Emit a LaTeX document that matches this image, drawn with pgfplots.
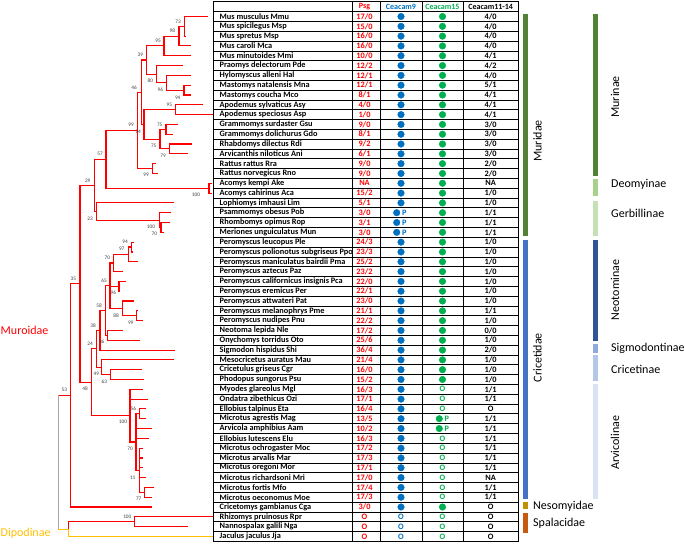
\documentclass[border=0pt]{standalone}
\usepackage{pgfplots}
\usepackage{pgfplotstable}
\pgfplotsset{compat=1.18}
\usepackage{fontspec}
\setmainfont{Carlito}
\definecolor{treered}{HTML}{FF0000}
\definecolor{cnine}{HTML}{0070C0}
\definecolor{cfif}{HTML}{00B050}
\definecolor{dgold}{HTML}{FFC000}
\definecolor{murgreen}{HTML}{548235}
\definecolor{deogreen}{HTML}{A9D18E}
\definecolor{gergreen}{HTML}{C5E0B4}
\definecolor{cricblue}{HTML}{4472C4}
\definecolor{neoblue}{HTML}{2F5597}
\definecolor{sigblue}{HTML}{8FAADC}
\definecolor{criblue}{HTML}{B4C7E7}
\definecolor{arvblue}{HTML}{DAE3F3}
\definecolor{nesgold}{HTML}{BF9000}
\definecolor{spaorange}{HTML}{C55A11}
\definecolor{bsgray}{HTML}{404040}
\newcommand\nf{\fontsize{8.3}{9}\selectfont\bfseries}
\newcommand\hf{\fontsize{8}{9}\selectfont\bfseries}
\newcommand\lf{\fontsize{12}{13}\selectfont}
\newcommand\bsf{\fontsize{5.3}{6}\selectfont}
\pgfplotstableread[col sep=comma,row sep=\\]{
name,psg,cx\\
Mus musculus Mmu,17/0,4/0\\
Mus spicilegus Msp,15/0,4/0\\
Mus spretus Msp,16/0,4/0\\
Mus caroli Mca,16/0,4/0\\
Mus minutoides Mmi,10/0,4/1\\
Praomys delectorum Pde,12/2,4/2\\
Hylomyscus alleni Hal,12/1,4/0\\
Mastomys natalensis Mna,12/1,5/1\\
Mastomys coucha Mco,8/1,4/1\\
Apodemus sylvaticus Asy,4/0,4/1\\
Apodemus speciosus Asp,1/0,4/1\\
Grammomys surdaster Gsu,9/0,3/0\\
Grammomys dolichurus Gdo,8/1,3/0\\
Rhabdomys dilectus Rdi,9/2,3/0\\
Arvicanthis niloticus Ani,6/1,3/0\\
Rattus rattus Rra,9/0,2/0\\
Rattus norvegicus Rno,9/0,2/0\\
Acomys kempi Ake,NA,NA\\
Acomys cahirinus Aca,15/2,1/0\\
Lophiomys imhausi Lim,5/1,1/0\\
Psammomys obesus Pob,3/0,1/1\\
Rhombomys opimus Rop,3/1,1/1\\
Meriones unguiculatus Mun,3/0,1/1\\
Peromyscus leucopus Ple,24/3,1/0\\
Peromyscus polionotus subgriseus Ppo,23/3,1/0\\
Peromyscus maniculatus bairdii Pma,25/2,1/0\\
Peromyscus aztecus Paz,23/2,1/0\\
Peromyscus californicus insignis  Pca,22/0,1/0\\
Peromyscus eremicus Per,22/1,1/0\\
Peromyscus attwateri Pat,23/0,1/0\\
Peromyscus melanophrys Pme,21/1,1/1\\
Peromyscus nudipes Pnu,22/2,1/0\\
Neotoma lepida Nle,17/2,0/0\\
Onychomys torridus Oto,25/6,1/0\\
Sigmodon hispidus Shi,36/4,2/0\\
Mesocricetus auratus Mau,21/4,1/0\\
Cricetulus griseus Cgr,16/0,1/0\\
Phodopus sungorus Psu,15/2,1/0\\
Myodes glareolus Mgl,16/3,1/1\\
Ondatra zibethicus Ozi,17/1,1/1\\
Ellobius talpinus Eta,16/4,O\\
Microtus agrestis Mag,13/5,1/1\\
Arvicola amphibius Aam,10/2,1/1\\
Ellobius lutescens Elu,16/3,1/1\\
Microtus ochrogaster Moc,17/2,1/1\\
Microtus arvalis Mar,17/3,1/1\\
Microtus oregoni Mor,17/1,1/1\\
Microtus richardsoni Mri,17/0,NA\\
Microtus fortis Mfo,17/4,1/1\\
Microtus oeconomus Moe,17/3,1/1\\
Cricetomys gambianus Cga,3/0,O\\
Rhizomys pruinosus Rpr,O,O\\
Nannospalax galili Nga,O,O\\
Jaculus jaculus Jja,O,O\\
}\spt
\pgfplotstableread{
x y lab
178 20.7 73
172.3 30.3 98
158 40 95
140.3 54 39
150.3 80.3 80
160.3 89 96
177.7 96.7 94
134 86.7 46
169.3 104 95
159.7 124 75
153.7 145.3 75
163 155 79
131 124.3 99
138 131 94
146 174.3 99
100 153.3 57
87.7 179.7 29
196 194.3 100
90 217.7 23
151 226 100
154.3 233.3 70
125 241 94
121.7 248.3 97
107.3 257 70
73.3 277.7 35
104 280 65
113.3 292.3 96
99 304.3 58
116 314.3 88
130.7 321.7 99
93 324.3 38
90 342.7 24
101.7 340.7 36
96.3 373.3 49
104.3 380.7 63
64.3 389 53
85 387.7 48
133.3 407.7 56
123 421 100
130 447.7 70
132.7 476.7 11
138.7 498.3 77
127.3 516 100
}\bst
\pgfplotsset{tr/.style={color=treered, line width=1.1pt, mark=none},
  sb/.style={line width=5pt, mark=none}}
\begin{document}
\begin{tikzpicture}
% table grid
\begin{axis}[x=1pt,y=1pt,y dir=reverse, xmin=213,xmax=518,ymin=0.895,ymax=540.445,
  at={(213pt,0.555pt)}, anchor=south west,
  xtick={352,380,422,463}, ytick={10.705,20.515,...,531},
  grid=major, major grid style={black,line width=0.7pt},
  xticklabels={}, yticklabels={}, major tick length=0pt,
  axis line style={black,line width=0.9pt}]
\addplot[draw=none] coordinates {(213,0.895)};
\end{axis}
\begin{axis}[x=1pt, y=1pt, y dir=reverse, xmin=0, xmax=685, ymin=0, ymax=541,
  hide axis, clip=false, at={(0,0)}, anchor=south west]
\path (axis cs:0,0) rectangle (axis cs:685,541);
% ---- tree ----
\addplot[tr] coordinates {(207.7,15.6)(184.3,15.6)(184.3,35.22)(185.7,35.22)};
\addplot[tr] coordinates {(184.3,25.41)(179,25.41)(179,45.03)(190.7,45.03)};
\addplot[tr] coordinates {(179,35.22)(164,35.22)(164,54.84)(190.7,54.84)};
\addplot[tr] coordinates {(190.7,84.27)(184,84.27)(184,94.08)(190.7,94.08)};
\addplot[tr] coordinates {(190.7,74.46)(166.7,74.46)(166.7,89.18)(184,89.18)};
\addplot[tr] coordinates {(183.3,64.65)(156.7,64.65)(156.7,81.82)(166.7,81.82)};
\addplot[tr] coordinates {(164,45.03)(146.7,45.03)(146.7,73.24)(156.7,73.24)};
\addplot[tr] coordinates {(203.3,103.89)(175.7,103.89)(175.7,113.7)(212.7,113.7)};
\addplot[tr] coordinates {(177.7,123.51)(166,123.51)(166,133.32)(172.7,133.32)};
\addplot[tr] coordinates {(192.3,143.13)(169.3,143.13)(169.3,152.94)(188.3,152.94)};
\addplot[tr] coordinates {(166,128.4)(160,128.4)(160,148.0)(169.3,148.0)};
\addplot[tr] coordinates {(175.7,108.8)(144,108.8)(144,138.2)(160,138.2)};
\addplot[tr] coordinates {(146.7,59.13)(141.7,59.13)(141.7,123.5)(144,123.5)};
\addplot[tr] coordinates {(156,162.75)(152.7,162.75)(152.7,172.56)(158.3,172.56)};
\addplot[tr] coordinates {(141.7,91.3)(137.7,91.3)(137.7,167.66)(152.7,167.66)};
\addplot[tr] coordinates {(211.5,182.37)(209,182.37)(209,192.18)(211.5,192.18)};
\addplot[tr] coordinates {(137.7,129.5)(106,129.5)(106,187.3)(209,187.3)};
\addplot[tr] coordinates {(170,221.61)(161,221.61)(161,231.42)(164.3,231.42)};
\addplot[tr] coordinates {(171,211.8)(159.3,211.8)(159.3,226.5)(161,226.5)};
\addplot[tr] coordinates {(174.3,201.99)(96.7,201.99)(96.7,219.2)(159.3,219.2)};
\addplot[tr] coordinates {(106,158.4)(94.3,158.4)(94.3,210.6)(96.7,210.6)};
\addplot[tr] coordinates {(94.3,184.5)(80,184.5)(80,381.3)(91.7,381.3)};
\addplot[tr] coordinates {(134,241.23)(131.7,241.23)(131.7,251.04)(133,251.04)};
\addplot[tr] coordinates {(131.7,246.1)(128.3,246.1)(128.3,260.85)(137.7,260.85)};
\addplot[tr] coordinates {(128.3,253.5)(113.3,253.5)(113.3,270.66)(122.7,270.66)};
\addplot[tr] coordinates {(125.7,280.47)(119,280.47)(119,290.28)(120,290.28)};
\addplot[tr] coordinates {(138.3,309.9)(136.7,309.9)(136.7,319.71)(143.3,319.71)};
\addplot[tr] coordinates {(134.3,300.09)(122.3,300.09)(122.3,314.8)(136.7,314.8)};
\addplot[tr] coordinates {(113.3,262.1)(110,262.1)(110,307.4)(122.3,307.4)};
\addplot[tr] coordinates {(110,285.4)(119,285.4)};
\addplot[tr] coordinates {(122.7,329.52)(107.3,329.52)(107.3,339.33)(140,339.33)};
\addplot[tr] coordinates {(110,284.8)(105.7,284.8)(105.7,334.4)(107.3,334.4)};
\addplot[tr] coordinates {(105.7,309.6)(100,309.6)(100,349.14)(175,349.14)};
\addplot[tr] coordinates {(141.7,368.76)(110.7,368.76)(110.7,378.57)(144,378.57)};
\addplot[tr] coordinates {(174.3,358.95)(101.7,358.95)(101.7,373.7)(110.7,373.7)};
\addplot[tr] coordinates {(100,329.4)(96.7,329.4)(96.7,366.3)(101.7,366.3)};
\addplot[tr] coordinates {(96.7,347.9)(91.7,347.9)(91.7,414.7)(130,414.7)};
\addplot[tr] coordinates {(145.7,408.0)(139.3,408.0)(139.3,417.81)(145.7,417.81)};
\addplot[tr] coordinates {(154,486.48)(144.3,486.48)(144.3,496.29)(151.7,496.29)};
\addplot[tr] coordinates {(143.3,447.24)(139.3,447.24)(139.3,491.4)(144.3,491.4)};
\addplot[tr] coordinates {(139.3,457.05)(143.3,457.05)};
\addplot[tr] coordinates {(139.3,466.86)(143.3,466.86)};
\addplot[tr] coordinates {(139.3,476.67)(145.7,476.67)};
\addplot[tr] coordinates {(139.3,412.9)(136,412.9)(136,469.3)(139.3,469.3)};
\addplot[tr] coordinates {(136,427.62)(151.7,427.62)};
\addplot[tr] coordinates {(136,437.43)(149,437.43)};
\addplot[tr] coordinates {(142.7,388.38)(130,388.38)(130,441.1)(136,441.1)};
\addplot[tr] coordinates {(130,398.19)(148.3,398.19)};
\addplot[tr] coordinates {(80,282.9)(70.7,282.9)(70.7,506.1)(151.7,506.1)};
\addplot[tr] coordinates {(70.7,394.5)(58.3,394.5)};
\addplot[color=gray!70, line width=1.1pt, mark=none] coordinates {(58.3,394.5)(58.3,528.2)};
\addplot[color=dgold, line width=1.1pt, mark=none] coordinates {(58.3,528.2)(68.3,528.2)};
\addplot[color=dgold, line width=1.1pt, mark=none] coordinates {(68.3,528.2)(68.3,535.53)(212.7,535.53)};
\addplot[tr] coordinates {(68.3,528.2)(68.3,520.8)(134.3,520.8)};
\addplot[tr] coordinates {(212.7,515.91)(134.3,515.91)(134.3,525.72)(187.7,525.72)};
% bootstrap values
\addplot[draw=none, mark=none, nodes near coords, point meta=explicit symbolic,
  every node near coord/.append style={anchor=center, font=\bsf, text=bsgray, inner sep=0pt}]
  table[x=x, y=y, meta=lab] {\bst};
\node[anchor=west, text=treered, font=\lf, inner sep=0pt] at (axis cs:0.5,329) {Muroidae};
\node[anchor=west, text=dgold, font=\lf, inner sep=0pt] at (axis cs:0.5,532) {Dipodinae};
% ---- table text ----
\node[text=treered, font=\hf] at (axis cs:364.5,5.7) {Psg};
\node[text=cnine, font=\hf] at (axis cs:401,5.7) {Ceacam9};
\node[text=cfif, font=\hf] at (axis cs:442.5,5.7) {Ceacam15};
\node[text=black, font=\hf] at (axis cs:490.7,5.7) {Ceacam11-14};
\addplot[draw=none, mark=none, nodes near coords, point meta=explicit symbolic,
  every node near coord/.append style={anchor=west, font=\nf, text=black, inner sep=0pt}]
  table[x expr=219.5, y expr=15.6+9.81*\coordindex, meta=name] {\spt};
\addplot[draw=none, mark=none, nodes near coords, point meta=explicit symbolic,
  every node near coord/.append style={anchor=center, font=\nf, text=treered, inner sep=0pt}]
  table[x expr=364.5, y expr=15.6+9.81*\coordindex, meta=psg] {\spt};
\addplot[draw=none, mark=none, nodes near coords, point meta=explicit symbolic,
  every node near coord/.append style={anchor=center, font=\nf, text=black, inner sep=0pt}]
  table[x expr=490.7, y expr=15.6+9.81*\coordindex, meta=cx] {\spt};
% Ceacam9 dots
\addplot[only marks, mark=*, mark size=3.3pt, color=cnine] coordinates {
(401,15.6)(401,25.41)(401,35.22)(401,45.03)(401,54.84)(401,64.65)(401,74.46)(401,84.27)
(401,94.08)(401,103.89)(401,113.7)(401,123.51)(401,133.32)(401,143.13)(401,152.94)
(401,162.75)(401,172.56)(401,182.37)(401,192.18)(401,201.99)
(396.7,211.8)(396.7,221.61)(396.7,231.42)
(401,241.23)(401,251.04)(401,260.85)(401,270.66)(401,280.47)(401,290.28)(401,300.09)
(401,309.9)(401,319.71)(401,329.52)(401,339.33)(401,349.14)(401,358.95)(401,368.76)
(401,378.57)(401,388.38)(401,398.19)(401,408.0)(401,417.81)(401,427.62)(401,437.43)
(401,447.24)(401,457.05)(401,466.86)(401,476.67)(401,486.48)(401,496.29)(401,506.1)};
% Ceacam15 dots
\addplot[only marks, mark=*, mark size=3.3pt, color=cfif] coordinates {
(442.5,15.6)(442.5,25.41)(442.5,35.22)(442.5,45.03)(442.5,54.84)(442.5,64.65)(442.5,74.46)
(442.5,84.27)(442.5,94.08)(442.5,103.89)(442.5,113.7)(442.5,123.51)(442.5,133.32)
(442.5,143.13)(442.5,152.94)(442.5,162.75)(442.5,172.56)(442.5,182.37)(442.5,192.18)
(442.5,201.99)(442.5,211.8)(442.5,221.61)(442.5,231.42)(442.5,241.23)(442.5,251.04)
(442.5,260.85)(442.5,270.66)(442.5,280.47)(442.5,290.28)(442.5,300.09)(442.5,309.9)
(442.5,319.71)(442.5,329.52)(442.5,339.33)(442.5,349.14)(442.5,358.95)(442.5,368.76)
(442.5,378.57)(439.3,417.81)(439.3,427.62)(442.5,506.1)};
% P marks
\addplot[draw=none, mark=none, nodes near coords={P},
  every node near coord/.append style={anchor=center, font=\nf, text=cnine, inner sep=0pt}]
  coordinates {(404.3,211.8)(404.3,221.61)(404.3,231.42)};
\addplot[draw=none, mark=none, nodes near coords={P},
  every node near coord/.append style={anchor=center, font=\nf, text=cfif, inner sep=0pt}]
  coordinates {(446.8,417.81)(446.8,427.62)};
% O marks
\addplot[draw=none, mark=none, nodes near coords={O},
  every node near coord/.append style={anchor=center, font=\nf, text=cnine, inner sep=0pt}]
  coordinates {(401,515.91)(401,525.72)(401,535.53)};
\addplot[draw=none, mark=none, nodes near coords={O},
  every node near coord/.append style={anchor=center, font=\nf, text=cfif, inner sep=0pt}]
  coordinates {(442.5,388.38)(442.5,398.19)(442.5,408.0)(442.5,437.43)(442.5,447.24)
  (442.5,457.05)(442.5,466.86)(442.5,476.67)(442.5,486.48)(442.5,496.29)
  (442.5,515.91)(442.5,525.72)(442.5,535.53)};
% ---- side bars ----
\addplot[sb, color=murgreen] coordinates {(525.8,12.7)(525.8,235)};
\addplot[sb, color=cricblue] coordinates {(525.8,239)(525.8,498)};
\addplot[sb, color=nesgold] coordinates {(525.8,500.7)(525.8,508)};
\addplot[sb, color=spaorange] coordinates {(525.8,511.7)(525.8,531.7)};
\addplot[sb, color=murgreen] coordinates {(595.2,12.7)(595.2,175)};
\addplot[sb, color=deogreen] coordinates {(595.2,178)(595.2,195)};
\addplot[sb, color=gergreen] coordinates {(595.2,200)(595.2,235)};
\addplot[sb, color=neoblue] coordinates {(595.2,239)(595.2,340)};
\addplot[sb, color=sigblue] coordinates {(595.2,343)(595.2,352)};
\addplot[sb, color=criblue] coordinates {(595.2,354)(595.2,380)};
\addplot[sb, color=arvblue] coordinates {(595.2,383)(595.2,498)};
\node[rotate=90, font=\lf] at (axis cs:537.5,140) {Muridae};
\node[rotate=90, font=\lf] at (axis cs:537.5,356.7) {Cricetidae};
\node[anchor=west, font=\lf, inner sep=0pt] at (axis cs:533,505.5) {Nesomyidae};
\node[anchor=west, font=\lf, inner sep=0pt] at (axis cs:533,522.5) {Spalacidae};
\node[rotate=90, font=\lf] at (axis cs:615,96) {Murinae};
\node[anchor=west, font=\lf, inner sep=0pt] at (axis cs:611,183.3) {Deomyinae};
\node[anchor=west, font=\lf, inner sep=0pt] at (axis cs:611,212) {Gerbillinae};
\node[rotate=90, font=\lf] at (axis cs:615,289) {Neotominae};
\node[anchor=west, font=\lf, inner sep=0pt] at (axis cs:611,347.5) {Sigmodontinae};
\node[anchor=west, font=\lf, inner sep=0pt] at (axis cs:611,368.7) {Cricetinae};
\node[rotate=90, font=\lf] at (axis cs:615,441.7) {Arvicolinae};
\end{axis}
\end{tikzpicture}
\end{document}
